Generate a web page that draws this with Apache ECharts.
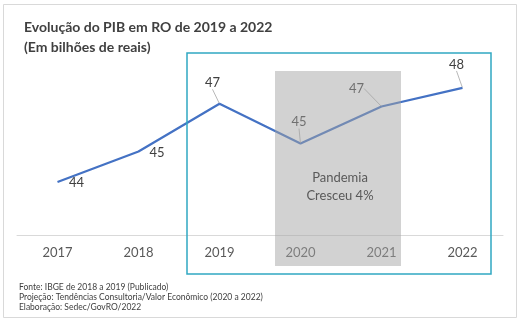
<!DOCTYPE html>
<html>
<head>
<meta charset="utf-8">
<script src="https://cdn.jsdelivr.net/npm/echarts@6/dist/echarts.min.js"></script>
<style>html,body{margin:0;padding:0;background:#fff}#c{width:522px;height:321px}</style>
</head>
<body>
<div id="c"></div>
<script>
var categories = ['2017', '2018', '2019', '2020', '2021', '2022'];
var pibValues = [44.0, 45.15, 46.95, 45.45, 46.85, 47.55];
var titleLines = ['Evolução do PIB em RO de 2019 a 2022', '(Em bilhões de reais)'];
var noteLines = ['Fonte: IBGE de 2018 a 2019 (Publicado)', 'Projeção: Tendências Consultoria/Valor Econômico (2020 a 2022)', 'Elaboração: Sedec/GovRO/2022'];
var annotationLines = ['Pandemia', 'Cresceu 4%'];
var labelShift = [[19, 1], [18.5, 1], [-7, -21], [-1.5, -21.5], [-25, -18], [-6, -23.5]];
var showLeader = [false, false, true, true, true, true];

var FONT = 'Lato, "Open Sans", sans-serif';
var chart = echarts.init(document.getElementById('c'), null, {renderer: 'canvas'});
chart.setOption({
  animation: false,
  backgroundColor: '#ffffff',
  textStyle: {fontFamily: FONT},
  title: [{
    text: titleLines.join('\n'),
    left: 19, top: 12,
    textStyle: {fontFamily: FONT, fontSize: 14, fontWeight: 'bold', color: '#404040', lineHeight: 20}
  }, {
    text: noteLines.join('\n'),
    left: 14, top: 277,
    textStyle: {fontFamily: FONT, fontSize: 8.5, fontWeight: 'normal', color: '#404040', lineHeight: 10}
  }],
  grid: {left: 17, right: 19, top: 49.5, bottom: 86},
  xAxis: {
    type: 'category', data: categories, boundaryGap: true,
    axisLine: {lineStyle: {color: '#d9d9d9', width: 1}},
    axisTick: {show: false},
    axisLabel: {color: '#595959', fontSize: 13, margin: 11, fontFamily: FONT}
  },
  yAxis: {type: 'value', min: 42, max: 49, show: false, splitLine: {show: false}},
  series: [{
    type: 'line',
    data: pibValues.map(function (v, i) {
      return {value: v, labelLine: {show: showLeader[i]}};
    }),
    symbol: 'circle', symbolSize: 1,
    itemStyle: {color: 'rgba(0,0,0,0)'},
    lineStyle: {color: '#4472C4', width: 2.25},
    label: {
      show: true, position: 'inside', color: '#404040', fontSize: 13, fontFamily: FONT,
      formatter: function (p) { return Math.round(p.value); }
    },
    labelLine: {show: true, length2: 0, lineStyle: {color: '#a6a6a6', width: 0.8}},
    labelLayout: function (p) {
      return {dx: labelShift[p.dataIndex][0], dy: labelShift[p.dataIndex][1]};
    },
    z: 2
  }],
  graphic: [
    {type: 'rect', z: 50, silent: true, shape: {x: 275, y: 71, width: 126, height: 195},
     style: {fill: 'rgba(163,163,163,0.49)'}},
    {type: 'text', z: 51, silent: true, x: 340, y: 187,
     style: {text: annotationLines.join('\n'), align: 'center', verticalAlign: 'middle', fill: '#595959', font: '13px ' + FONT, lineHeight: 18}},
    {type: 'rect', z: 52, silent: true, shape: {x: 187, y: 53, width: 304, height: 221},
     style: {fill: 'none', stroke: '#30A8C2', lineWidth: 1.5}},
    {type: 'rect', z: 52, silent: true, shape: {x: 3.5, y: 4.5, width: 513, height: 313},
     style: {fill: 'none', stroke: '#d9d9d9', lineWidth: 1}}
  ]
});
</script>
</body>
</html>
